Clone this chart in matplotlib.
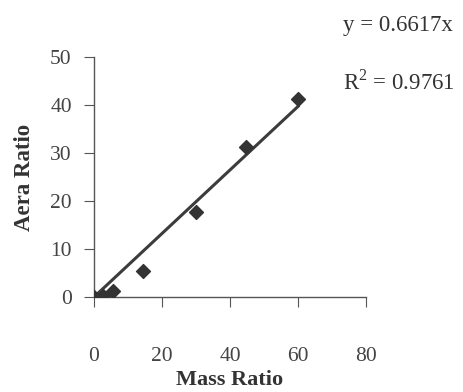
import numpy as np
import matplotlib
matplotlib.use("Agg")
import matplotlib.pyplot as plt

# data
mass_ratio = [0, 2.7, 5.5, 14.5, 30, 44.8, 60]
area_ratio = [0, 0.2, 1.3, 5.4, 17.8, 31.2, 41.2]
slope = 0.6617
r2 = 0.9761
x_ticks = [0, 20, 40, 60, 80]
y_ticks = [0, 10, 20, 30, 40, 50]

plt.rcParams['font.family'] = ['Liberation Serif', 'DejaVu Serif']
plt.rcParams['mathtext.fontset'] = 'custom'
plt.rcParams['mathtext.rm'] = 'Liberation Serif'

fig = plt.figure(figsize=(4.64, 3.92), dpi=100)
ax = fig.add_axes([0.2026, 0.2423, 0.5862, 0.6123])

# trend line through origin
xl = np.array([0, max(mass_ratio)])
ax.plot(xl, slope * xl, color='#3c3c3c', lw=2.2, zorder=2)
ax.scatter(mass_ratio, area_ratio, marker='D', s=50, color='#333333', zorder=3)

ax.set_xlim(0, 80)
ax.set_ylim(0, 50)
ax.set_xticks(x_ticks)
ax.set_yticks(y_ticks)
ax.spines['top'].set_visible(False)
ax.spines['right'].set_visible(False)
for s in ['left', 'bottom']:
    ax.spines[s].set_color('#555555')
    ax.spines[s].set_linewidth(1.0)
ax.tick_params(axis='x', direction='out', length=7, pad=29, labelsize=15.5,
               colors='#555555', labelcolor='#444444')
ax.tick_params(axis='y', direction='out', length=7, pad=9, labelsize=15.5,
               colors='#555555', labelcolor='#444444')

ax.set_xlabel('Mass Ratio', fontsize=16, fontweight='bold', color='#333333', labelpad=3)
ax.set_ylabel('Aera Ratio', fontsize=16.5, fontweight='bold', color='#333333', labelpad=11)

fig.text(0.739, 0.935, 'y = %.4fx' % slope, fontsize=16.5, color='#333333', va='center')
fig.text(0.739, 0.79, r'R$^{\mathrm{2}}$ = %.4f' % r2, fontsize=16.5, color='#333333', va='center')

fig.savefig('out.png', dpi=100)
